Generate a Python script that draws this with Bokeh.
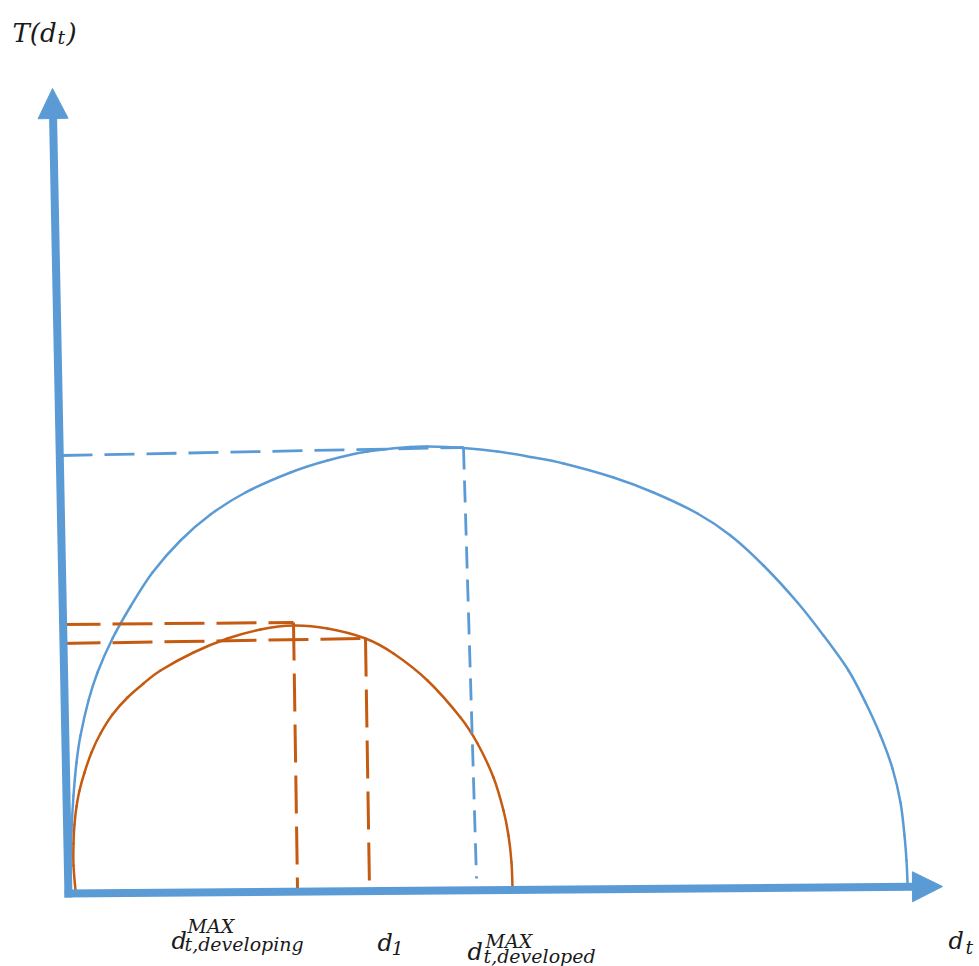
from bokeh.plotting import figure
from bokeh.models import Range1d, Arrow, NormalHead, ColumnDataSource
from bokeh.core.properties import value
from bokeh.embed import file_html
from bokeh.resources import INLINE

BLUE = "#5B9BD5"
ORANGE = "#C55A11"
TEXT = "#1a1a1a"
FONT = "DejaVu Serif"

# ---- data (origin at the axes corner) ----
# T(d_t) curve for the developed case (blue)
blue_x = [0, 0, 1, 3, 6, 10, 18, 27, 42, 60, 82, 110, 140, 175, 220, 257, 297, 340, 357,
          393, 427, 460, 493, 543, 583, 627, 660, 693, 727, 753, 778, 795, 810, 822, 830, 834, 836, 837]
blue_y = [2, 30, 60, 95, 128, 155, 190, 218, 252, 284, 318, 350, 376, 398, 418, 430, 439, 443.5, 444,
          442.5, 439, 433.5, 427, 413, 398, 377, 355, 325, 288, 255, 220, 188, 155, 122, 88, 55, 30, 8]

# T(d_t) curve for the developing case (orange)
orange_x = [5, 3, 3, 4, 6, 9, 14, 21, 30, 42, 57, 73, 90, 123, 157, 190, 223, 257, 295, 323,
            357, 390, 407, 423, 433, 438, 441, 442]
orange_y = [0, 25, 47, 66, 84, 100, 118, 138, 157, 176, 193, 207, 220, 238, 252, 261, 265, 262, 252, 237,
            210, 173, 147, 113, 80, 55, 28, 3]

# dashed reference lines
blue_h_x = [-8, 393]
blue_h_y = [435, 443]
blue_v_x = [393, 406]
blue_v_y = [443, 12]
orange_peak_h_x = [-10, 223]
orange_peak_h_y = [266, 268]
orange_d1_h_x = [-10, 295]
orange_d1_h_y = [247, 252]
orange_peak_v_x = [223, 227]
orange_peak_v_y = [268, 2]
orange_d1_v_x = [295, 299]
orange_d1_v_y = [252, 2]

# axes (start -> arrow tip)
yaxis_x = [-2, -18]
yaxis_y = [-7, 802]
xaxis_x = [-6, 872]
xaxis_y = [-3, 4]

# labels
title_text = ["T(d", ")"]
title_x = [-58, -4]
title_y = [858, 858]
main_text = ["d", "d", "d", "d"]
main_x = [101, 307, 397, 878]
main_y = [-50, -52, -61, -50]
small_text = ["t", "MAX", "t,developing", "1", "MAX", "t,developed", "t"]
small_x = [-13, 117, 114, 321, 415, 413, 895]
small_y = [854, -35, -53, -57, -50, -65, -56]

p = figure(width=979, height=966, output_backend="svg", toolbar_location=None,
           x_axis_type=None, y_axis_type=None, min_border=0,
           x_range=Range1d(-70, 909), y_range=Range1d(-76, 890))
p.grid.visible = False
p.outline_line_color = None
p.background_fill_color = "white"
p.border_fill_color = "white"


def smooth_curve(xs, ys, color):
    """Draw the read points as one smooth curve (Catmull-Rom rendered as cubic Beziers)."""
    n = len(xs)
    x0, y0, x1, y1, cx0, cy0, cx1, cy1 = ([] for _ in range(8))
    for i in range(n - 1):
        pa = (xs[max(i - 1, 0)], ys[max(i - 1, 0)])
        pb = (xs[i], ys[i])
        pc = (xs[i + 1], ys[i + 1])
        pd = (xs[min(i + 2, n - 1)], ys[min(i + 2, n - 1)])
        x0.append(pb[0]); y0.append(pb[1])
        x1.append(pc[0]); y1.append(pc[1])
        cx0.append(pb[0] + (pc[0] - pa[0]) / 6); cy0.append(pb[1] + (pc[1] - pa[1]) / 6)
        cx1.append(pc[0] - (pd[0] - pb[0]) / 6); cy1.append(pc[1] - (pd[1] - pb[1]) / 6)
    src = ColumnDataSource(dict(x0=x0, y0=y0, x1=x1, y1=y1, cx0=cx0, cy0=cy0, cx1=cx1, cy1=cy1))
    p.bezier(x0="x0", y0="y0", x1="x1", y1="y1", cx0="cx0", cy0="cy0", cx1="cx1", cy1="cy1",
             source=src, line_color=color, line_width=2.5, line_cap="round")


smooth_curve(blue_x, blue_y, BLUE)
smooth_curve(orange_x, orange_y, ORANGE)

p.line(blue_h_x, blue_h_y, line_color=BLUE, line_width=2.8, line_dash="30 12")
p.line(blue_v_x, blue_v_y, line_color=BLUE, line_width=2.8, line_dash="22 11")
p.line(orange_peak_h_x, orange_peak_h_y, line_color=ORANGE, line_width=3, line_dash="40 12")
p.line(orange_d1_h_x, orange_d1_h_y, line_color=ORANGE, line_width=3, line_dash="40 12")
p.line(orange_peak_v_x, orange_peak_v_y, line_color=ORANGE, line_width=3, line_dash="38 13")
p.line(orange_d1_v_x, orange_d1_v_y, line_color=ORANGE, line_width=3, line_dash="38 13")

for ax_x, ax_y in [(yaxis_x, yaxis_y), (xaxis_x, xaxis_y)]:
    p.add_layout(Arrow(x_start=ax_x[0], y_start=ax_y[0], x_end=ax_x[1], y_end=ax_y[1],
                       line_color=BLUE, line_width=8,
                       end=NormalHead(size=30, fill_color=BLUE, line_color=BLUE, line_width=1)))


def add_text(xs, ys, texts, size):
    src = ColumnDataSource(dict(x=xs, y=ys, text=texts))
    p.text(x="x", y="y", text="text", source=src, text_font=value(FONT),
           text_font_style="italic", text_font_size=size, text_color=TEXT,
           text_align="left", text_baseline="alphabetic")


add_text(title_x, title_y, title_text, "26px")
add_text(main_x, main_y, main_text, "24px")
add_text(small_x, small_y, small_text, "19px")

open("out.html", "w").write(file_html(p, INLINE))
